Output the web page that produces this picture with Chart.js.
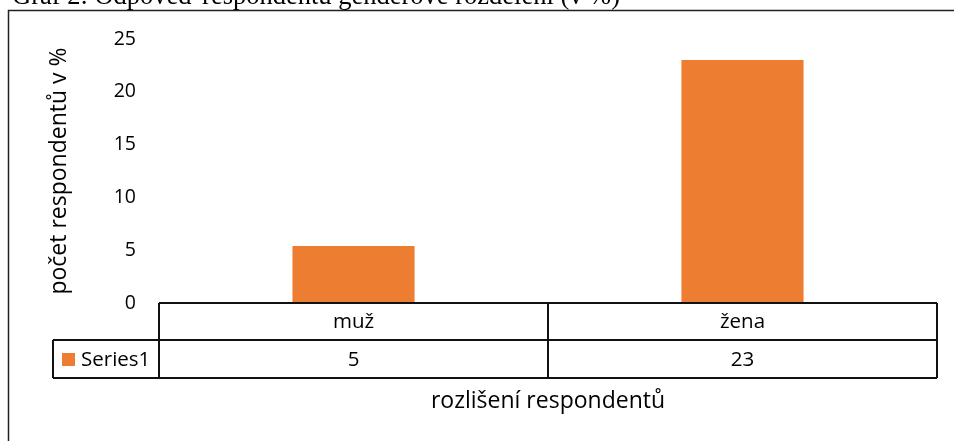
<!DOCTYPE html>
<html>
<head>
<meta charset="utf-8">
<script src="https://cdn.jsdelivr.net/npm/chart.js@4/dist/chart.umd.min.js"></script>
<style>
html,body{margin:0;padding:0;background:#fff;}
canvas{display:block;}
</style>
</head>
<body>
<canvas id="c" width="954" height="441"></canvas>
<script>
const categories = ['muž', 'žena'];
const seriesName = 'Series1';
const seriesValues = [5.4, 23];
const yTicks = [0, 5, 10, 15, 20, 25];
const chartTitle = 'Graf 2: Odpověď respondentů genderové rozdělení (v %)';
const yTitle = 'počet respondentů v %';
const xTitle = 'rozlišení respondentů';

const FONT = '"Open Sans", "Noto Sans", sans-serif';
const ORANGE = '#ED7D31';

const tablePlugin = {
  id: 'tablePlugin',
  beforeDraw(chart) {
    const ctx = chart.ctx;
    ctx.save();
    ctx.fillStyle = '#fff';
    ctx.fillRect(0, 0, chart.width, chart.height);
    ctx.restore();
  },
  afterDraw(chart) {
    const ctx = chart.ctx;
    const area = chart.chartArea;
    const x = chart.scales.x;
    ctx.save();
    // clipped title
    ctx.fillStyle = '#000';
    ctx.font = '26.5px "Liberation Serif", serif';
    ctx.textAlign = 'left';
    ctx.textBaseline = 'alphabetic';
    ctx.fillText(chartTitle, 12, 4);
    // outer frame
    ctx.strokeStyle = '#222';
    ctx.lineWidth = 1.5;
    ctx.strokeRect(8.5, 10.5, 1200, 800);

    // data table
    const n = categories.length;
    const colW = (area.right - area.left) / n;
    const r0 = area.bottom, r1 = 340, r2 = 378;
    const legendLeft = 53;
    ctx.strokeStyle = '#111';
    ctx.lineWidth = 2;
    ctx.beginPath();
    ctx.moveTo(area.left, r0); ctx.lineTo(area.right, r0);
    ctx.moveTo(legendLeft, r1); ctx.lineTo(area.right, r1);
    ctx.moveTo(legendLeft, r2); ctx.lineTo(area.right, r2);
    ctx.moveTo(legendLeft, r1); ctx.lineTo(legendLeft, r2);
    for (let i = 0; i <= n; i++) {
      const xx = area.left + i * colW;
      ctx.moveTo(xx, r0); ctx.lineTo(xx, r2);
    }
    ctx.stroke();

    ctx.fillStyle = '#000';
    ctx.font = '20.5px ' + FONT;
    ctx.textAlign = 'center';
    ctx.textBaseline = 'middle';
    categories.forEach((c, i) => {
      const cx = x.getPixelForValue(i);
      ctx.fillText(c, cx, (r0 + r1) / 2 + 1);
      ctx.fillText(seriesValues[i].toFixed(0), cx, (r1 + r2) / 2 + 1);
    });
    // legend key
    ctx.fillStyle = ORANGE;
    ctx.fillRect(62, 353, 13, 13);
    ctx.fillStyle = '#000';
    ctx.textAlign = 'left';
    ctx.fillText(seriesName, 81, (r1 + r2) / 2 + 1);
    // x title
    ctx.font = '23px ' + FONT;
    ctx.textAlign = 'center';
    ctx.fillText(xTitle, (area.left + area.right) / 2, 401);
    ctx.restore();
  }
};

new Chart(document.getElementById('c'), {
  type: 'bar',
  data: {
    labels: categories,
    datasets: [{
      label: seriesName,
      data: seriesValues,
      backgroundColor: ORANGE,
      borderWidth: 0,
      barPercentage: 1,
      categoryPercentage: 0.314
    }]
  },
  options: {
    responsive: false,
    animation: false,
    devicePixelRatio: 1,
    layout: { padding: { left: 0, top: 39, right: 17, bottom: 138 } },
    plugins: { legend: { display: false }, tooltip: { enabled: false }, title: { display: false } },
    scales: {
      x: { display: false, offset: true },
      y: {
        min: 0, max: 25,
        afterFit(scale) { scale.width = 159; },
        afterBuildTicks(scale) { scale.ticks = yTicks.map(v => ({ value: v })); },
        grid: { display: false, drawTicks: false },
        border: { display: false },
        ticks: { padding: 23, color: '#000', font: { family: FONT, size: 19.5 } },
        title: {
          display: true, text: yTitle, color: '#000',
          font: { family: FONT, size: 23 },
          padding: { top: 46, bottom: 0 }
        }
      }
    }
  },
  plugins: [tablePlugin]
});
</script>
</body>
</html>
